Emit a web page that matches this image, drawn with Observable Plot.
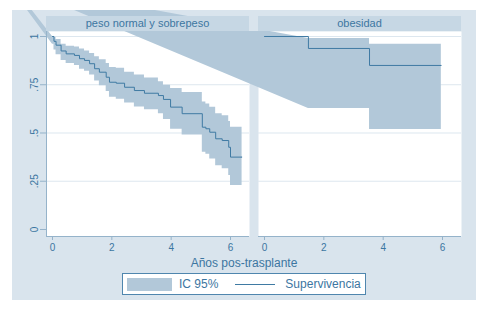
<!DOCTYPE html>
<html><head><meta charset="utf-8">
<script src="https://cdn.jsdelivr.net/npm/d3@7"></script>
<script src="https://cdn.jsdelivr.net/npm/@observablehq/plot@0.6"></script>
<style>
html,body{margin:0;padding:0;background:#fff;}
body{width:494px;height:311px;position:relative;overflow:hidden;font-family:"Liberation Sans",Arial,sans-serif;}
#graph{position:absolute;left:12px;top:10px;width:464px;height:290px;background:#d9e4ed;overflow:hidden;}
#graph svg{position:absolute;left:0;top:0;overflow:hidden;}
.strip{position:absolute;height:15px;line-height:15px;background:#c6d7e4;color:#3c76a1;font-size:11px;text-align:center;white-space:nowrap;}
#stripbar{position:absolute;height:15px;background:#d9e4ed;}
#xtitle{position:absolute;left:0;width:464px;top:246px;line-height:14px;text-align:center;font-size:12px;color:#3c76a1;}
#legend{position:absolute;left:110px;top:263px;width:242px;height:20px;border:1px solid #4f86ae;background:#fff;display:flex;align-items:center;font-size:12px;color:#3c76a1;box-sizing:content-box;}
#legend .sw{width:45px;height:13px;background:#b2c8d9;margin-left:4px;margin-right:7px;flex:none;}
#legend .ln{width:40px;height:0;border-top:1px solid #3f7aa3;margin-left:17px;margin-right:10px;flex:none;}
</style></head>
<body>
<div id="graph"></div>
<script>
// facets
const groups = ["peso normal y sobrepeso", "obesidad"];
const xTicks = [0, 2, 4, 6];
const xTickLabels = ["0", "2", "4", "6"];
const yTicks = [0, 0.25, 0.5, 0.75, 1];
const yTickLabels = ["0", ".25", ".5", ".75", "1"];
const gridTicks = [0.25, 0.5, 0.75, 1];
const xTitle = "Años pos-trasplante";
const legendLabels = ["IC 95%", "Supervivencia"];

// peso normal y sobrepeso: Kaplan-Meier steps
const normTime  = [0, 0.05, 0.12, 0.29, 0.46, 0.74, 0.91, 1.08, 1.25, 1.42, 1.58, 1.81, 1.92, 2.15, 2.43, 2.76, 3.1, 3.57, 3.74, 3.98, 4.37, 5.05, 5.17, 5.3, 5.5, 5.72, 5.94, 6.0];
const normSurv  = [1, 0.975, 0.955, 0.925, 0.91, 0.902, 0.885, 0.876, 0.859, 0.833, 0.815, 0.789, 0.763, 0.758, 0.737, 0.72, 0.706, 0.694, 0.674, 0.634, 0.60, 0.53, 0.522, 0.504, 0.47, 0.461, 0.426, 0.375];
const normUpper = [1, 0.995, 0.985, 0.96, 0.95, 0.945, 0.935, 0.925, 0.912, 0.895, 0.88, 0.86, 0.84, 0.835, 0.815, 0.80, 0.785, 0.765, 0.748, 0.73, 0.71, 0.66, 0.65, 0.634, 0.60, 0.59, 0.56, 0.53];
const normLower = [0.96, 0.93, 0.905, 0.875, 0.86, 0.85, 0.83, 0.82, 0.80, 0.77, 0.745, 0.715, 0.685, 0.675, 0.655, 0.635, 0.62, 0.60, 0.57, 0.52, 0.49, 0.40, 0.39, 0.365, 0.33, 0.315, 0.28, 0.228];
const normEnd = 6.39;

// obesidad
const obTime = [0, 1.48, 3.54];
const obSurv = [1, 0.938, 0.85];
const obCiTime = [1.48, 3.54];
const obUpper = [0.99, 0.96];
const obLower = [0.627, 0.518];
const obEnd = 5.96;

// first vertex of each band polygon as drawn in the reference (lies outside the frame)
const bandStartTime = [-4, -8.5];
const bandStartValue = [1.79, 1.27];

// colours
const bgColor = "#d9e4ed", bandColor = "#b2c8d9", lineColor = "#3f7aa3",
      textColor = "#3c76a1", gridColor = "#dde7ef", axisColor = "#95b3ca";

function stepLine(g, times, vals, end) {
  const rows = times.map((t, i) => ({g, t, s: vals[i]}));
  rows.push({g, t: end, s: vals[vals.length - 1]});
  return rows;
}
function stepBand(g, times, lo, hi, end, t0, v0) {
  const rows = [{g, t: t0, lo: v0, hi: v0}];
  times.forEach((t, i) => {
    rows.push({g, t, lo: lo[i], hi: hi[i]});
    rows.push({g, t: i + 1 < times.length ? times[i + 1] : end, lo: lo[i], hi: hi[i]});
  });
  return rows;
}

const lineRows = [
  ...stepLine(groups[0], normTime, normSurv, normEnd),
  ...stepLine(groups[1], obTime, obSurv, obEnd)
];
const bandRows = [
  ...stepBand(groups[0], normTime, normLower, normUpper, normEnd, bandStartTime[0], bandStartValue[0]),
  ...stepBand(groups[1], obCiTime, obLower, obUpper, obEnd, bandStartTime[1], bandStartValue[1])
];

const xDomain = [-0.202, 6.64];
const yDomain = [-0.0363, 1.0259];

const chart = Plot.plot({
  width: 464, height: 262,
  marginLeft: 34, marginRight: 15, marginTop: 21, marginBottom: 36,
  style: {background: bgColor, fontFamily: "'Liberation Sans', Arial, sans-serif", fontSize: "10px", overflow: "hidden"},
  fx: {domain: groups, paddingInner: 0.0425, paddingOuter: 0, round: false, axis: null, label: null},
  x: {domain: xDomain, label: null},
  y: {domain: yDomain, label: null},
  marks: [
    Plot.frame({fill: "white", stroke: null}),
    Plot.gridY(gridTicks, {stroke: gridColor, strokeOpacity: 1}),
    Plot.areaY(bandRows, {fx: "g", x: "t", y1: "lo", y2: "hi", z: "g", fill: bandColor, fillOpacity: 1, curve: "linear"}),
    Plot.line(lineRows, {fx: "g", x: "t", y: "s", z: "g", stroke: lineColor, strokeWidth: 1, curve: "step-after"}),
    Plot.ruleY([yDomain[0]], {stroke: axisColor}),
    Plot.ruleX([{g: groups[0], x: xDomain[0]}], {fx: "g", x: "x", stroke: axisColor}),
    Plot.axisX({ticks: xTicks, tickSize: 4, tickPadding: 3, fill: textColor, stroke: axisColor, label: null, fontSize: 10,
      tickFormat: d => xTickLabels[xTicks.indexOf(d)]}),
    Plot.axisY({ticks: yTicks, tickSize: 6, tickPadding: 3, tickRotate: -90, fill: textColor, stroke: axisColor, label: null, fontSize: 10,
      tickFormat: d => yTickLabels[yTicks.indexOf(d)]})
  ]
});

const graph = document.getElementById("graph");
graph.appendChild(chart);

// facet strips positioned from the fx scale
const fx = chart.scale("fx");
const bw = fx.bandwidth;
const stripTop = 21 - 15;
const left0 = fx.apply(groups[0]), left1 = fx.apply(groups[groups.length - 1]);
const bar = document.createElement("div");
bar.id = "stripbar";
bar.style.left = left0 + "px"; bar.style.top = stripTop + "px"; bar.style.width = (left1 + bw - left0) + "px";
graph.appendChild(bar);
groups.forEach(g => {
  const d = document.createElement("div");
  d.className = "strip";
  d.textContent = g;
  d.style.left = fx.apply(g) + "px";
  d.style.top = stripTop + "px";
  d.style.width = bw + "px";
  graph.appendChild(d);
});

const xt = document.createElement("div");
xt.id = "xtitle"; xt.textContent = xTitle;
graph.appendChild(xt);

const lg = document.createElement("div");
lg.id = "legend";
lg.innerHTML = '<span class="sw"></span><span></span><span class="ln"></span><span></span>';
lg.children[1].textContent = legendLabels[0];
lg.children[3].textContent = legendLabels[1];
graph.appendChild(lg);
</script>
</body></html>
